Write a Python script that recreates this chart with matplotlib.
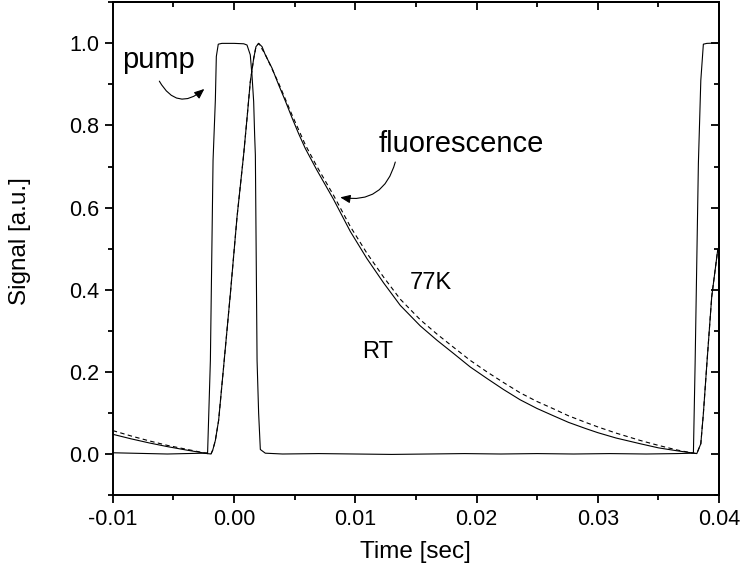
import matplotlib
matplotlib.use("Agg")
import matplotlib.pyplot as plt
from matplotlib.ticker import MultipleLocator, FormatStrFormatter
from matplotlib.patches import FancyArrowPatch

plt.rcParams['font.family'] = ['Liberation Sans', 'DejaVu Sans']
plt.rcParams['axes.unicode_minus'] = False

# pump pulse (time [s], signal)
pump_t = [-0.0100, -0.0085, -0.0070, -0.0055, -0.0040, -0.0025, -0.00218, -0.00195,
          -0.00173, -0.00154, -0.00146, -0.0013, -0.0010, 0.0000, 0.0008, 0.00107,
          0.00134, 0.00148, 0.00162, 0.0017, 0.00176, 0.0019, 0.00203, 0.00217,
          0.00258, 0.0040, 0.0070, 0.0100, 0.0130, 0.0160, 0.0190, 0.0220, 0.0250,
          0.0280, 0.0310, 0.0340, 0.0365, 0.0378, 0.03789, 0.03803, 0.0383, 0.0385,
          0.03871, 0.0390, 0.0400]
pump_v = [0.003, 0.002, 0.001, 0.000, 0.001, 0.002, 0.003, 0.228,
          0.715, 0.862, 0.968, 0.998, 1.000, 1.000, 0.999, 0.996,
          0.972, 0.923, 0.858, 0.777, 0.728, 0.228, 0.099, 0.011,
          0.002, 0.000, 0.001, 0.000, -0.001, 0.000, 0.001, 0.000, 0.001,
          0.000, 0.001, 0.000, 0.001, 0.002, 0.003, 0.220, 0.708, 0.910,
          0.998, 1.000, 1.001]

# fluorescence at room temperature
rt_t = [-0.0100, -0.0085, -0.0070, -0.0055, -0.0040, -0.0030, -0.0022, -0.0019,
        -0.00175, -0.00154, -0.00127, -0.00086, -0.0003, 0.00025, 0.00079, 0.00107,
        0.00134, 0.00162, 0.00181, 0.00203, 0.00231, 0.00258, 0.00313, 0.00368,
        0.00423, 0.00478, 0.00533, 0.00588, 0.00684, 0.00821, 0.00959, 0.01096,
        0.01233, 0.01371, 0.01536, 0.01674, 0.0181, 0.01948, 0.02086, 0.02223,
        0.0236, 0.02498, 0.02635, 0.02759, 0.0290, 0.0300, 0.0315, 0.0335,
        0.0350, 0.0365, 0.0377, 0.03817, 0.0385, 0.03871, 0.0390, 0.0394,
        0.03989, 0.0400]
rt_v = [0.048, 0.037, 0.027, 0.018, 0.010, 0.005, 0.001, 0.000,
        0.010, 0.033, 0.082, 0.212, 0.391, 0.578, 0.728, 0.817,
        0.906, 0.963, 0.992, 1.000, 0.992, 0.972, 0.940, 0.899,
        0.860, 0.819, 0.780, 0.744, 0.691, 0.620, 0.542, 0.476,
        0.417, 0.362, 0.312, 0.277, 0.245, 0.212, 0.184, 0.157,
        0.132, 0.111, 0.093, 0.077, 0.062, 0.052, 0.039, 0.025,
        0.015, 0.008, 0.003, 0.001, 0.025, 0.098, 0.220, 0.383,
        0.496, 0.501]

# fluorescence at 77K
lt_t = [-0.0100, -0.0085, -0.0070, -0.0055, -0.0040, -0.0030, -0.0022, -0.0019,
        -0.00175, -0.00154, -0.00127, -0.00086, -0.0003, 0.00025, 0.00079, 0.00107,
        0.00134, 0.00162, 0.00181, 0.00203, 0.00258, 0.00368, 0.00478, 0.00588,
        0.00684, 0.00821, 0.00959, 0.01096, 0.01233, 0.01371, 0.01536, 0.01674,
        0.0181, 0.01948, 0.02086, 0.02223, 0.0236, 0.02498, 0.02635, 0.02759,
        0.0290, 0.0300, 0.0315, 0.0335, 0.0350, 0.0365, 0.0377, 0.03817,
        0.0385, 0.03871, 0.0390, 0.0394, 0.03989, 0.0400]
lt_v = [0.057, 0.044, 0.032, 0.021, 0.012, 0.006, 0.001, 0.000,
        0.010, 0.033, 0.082, 0.212, 0.391, 0.578, 0.728, 0.817,
        0.906, 0.963, 0.992, 1.000, 0.973, 0.903, 0.826, 0.753,
        0.700, 0.630, 0.554, 0.489, 0.431, 0.377, 0.327, 0.292,
        0.260, 0.228, 0.200, 0.174, 0.149, 0.128, 0.110, 0.093,
        0.077, 0.066, 0.051, 0.033, 0.021, 0.010, 0.003, 0.001,
        0.025, 0.098, 0.220, 0.383, 0.496, 0.501]

fig = plt.figure(figsize=(7.42, 5.77), dpi=100)
ax = fig.add_axes([0.152, 0.142, 0.817, 0.854])

ax.plot(pump_t, pump_v, color='black', lw=0.8)
ax.plot(rt_t, rt_v, color='black', lw=0.8)
ax.plot(lt_t, lt_v, color='black', lw=0.8, linestyle=(0, (4, 3)))

ax.set_xlim(-0.01, 0.04)
ax.set_ylim(-0.1, 1.1)
ax.xaxis.set_major_locator(MultipleLocator(0.01))
ax.xaxis.set_minor_locator(MultipleLocator(0.005))
ax.yaxis.set_major_locator(MultipleLocator(0.2))
ax.yaxis.set_minor_locator(MultipleLocator(0.1))
ax.xaxis.set_major_formatter(FormatStrFormatter('%.2f'))
ax.yaxis.set_major_formatter(FormatStrFormatter('%.1f'))
ax.tick_params(which='major', direction='out', length=6, width=1.3, labelsize=15.5, pad=4)
ax.tick_params(which='minor', direction='out', length=3.5, width=1.3)
for sp in ax.spines.values():
    sp.set_linewidth(1.4)

# mirrored ticks pointing inward on top and right
top = ax.secondary_xaxis('top')
right = ax.secondary_yaxis('right')
for sec, axis in ((top, top.xaxis), (right, right.yaxis)):
    axis.set_major_locator(MultipleLocator(0.01 if sec is top else 0.2))
    axis.set_minor_locator(MultipleLocator(0.005 if sec is top else 0.1))
    sec.tick_params(which='major', direction='in', length=6, width=1.3, labelsize=0)
    sec.tick_params(which='minor', direction='in', length=3.5, width=1.3)
    axis.set_ticklabels([])
    for sp in sec.spines.values():
        sp.set_linewidth(1.4)

ax.set_xlabel('Time [sec]', fontsize=17.5, labelpad=8)
ax.set_ylabel('Signal [a.u.]', fontsize=17.5)
ax.yaxis.set_label_coords(-0.135, 0.515)

ax.text(-0.0092, 0.94, 'pump', fontsize=21, ha='left', va='baseline')
ax.text(0.0119, 0.736, 'fluorescence', fontsize=21, ha='left', va='baseline')
ax.text(0.01453, 0.403, '77K', fontsize=17, ha='left', va='baseline')
ax.text(0.0106, 0.235, 'RT', fontsize=17, ha='left', va='baseline')

arr_kw = dict(arrowstyle='-|>,head_length=0.6,head_width=0.25', mutation_scale=10,
              color='black', lw=0.8, shrinkA=0, shrinkB=0)
ax.add_patch(FancyArrowPatch((-0.00616, 0.908), (-0.00245, 0.889),
                             connectionstyle='arc3,rad=0.6', **arr_kw))
ax.add_patch(FancyArrowPatch((0.0133, 0.711), (0.00876, 0.625),
                             connectionstyle='arc3,rad=-0.45', **arr_kw))

fig.savefig('out.png', dpi=100)
